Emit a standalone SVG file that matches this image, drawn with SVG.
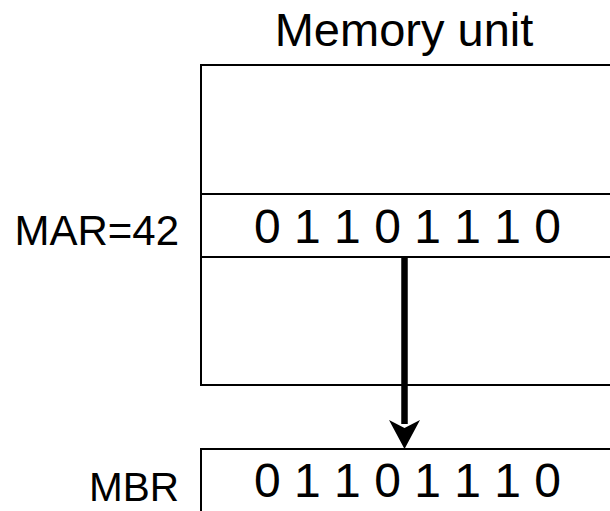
<svg xmlns="http://www.w3.org/2000/svg" width="610" height="511" viewBox="0 0 610 511">
<style>
.t{font-family:"Liberation Sans",Arial,sans-serif;fill:#000}
.box{fill:#fff;stroke:#000;stroke-width:2}
</style>
<rect width="610" height="511" fill="#fff"/>
<g id="memory">
<text class="t" x="404" y="46" font-size="47" text-anchor="middle">Memory unit</text>
<rect class="box" x="201" y="65" width="420" height="320"/>
<line x1="201" y1="194" x2="620" y2="194" stroke="#000" stroke-width="2"/>
<line x1="201" y1="257" x2="620" y2="257" stroke="#000" stroke-width="2"/>
<text class="t" x="407.5" y="242.5" font-size="48" text-anchor="middle">0 1 1 0 1 1 1 0</text>
</g>
<g id="mar">
<text class="t" x="179" y="245" font-size="42" text-anchor="end">MAR=42</text>
</g>
<g id="mbr">
<rect class="box" x="201" y="449" width="420" height="80"/>
<text class="t" x="407.5" y="497" font-size="48" text-anchor="middle">0 1 1 0 1 1 1 0</text>
<text class="t" x="179" y="501" font-size="40.5" text-anchor="end">MBR</text>
</g>
<g id="connectors">
<line x1="404.5" y1="257" x2="404.5" y2="424" stroke="#000" stroke-width="6.5"/>
<polygon points="389,420 404.5,428 420,420 404.5,449" fill="#000"/>
</g>
</svg>
